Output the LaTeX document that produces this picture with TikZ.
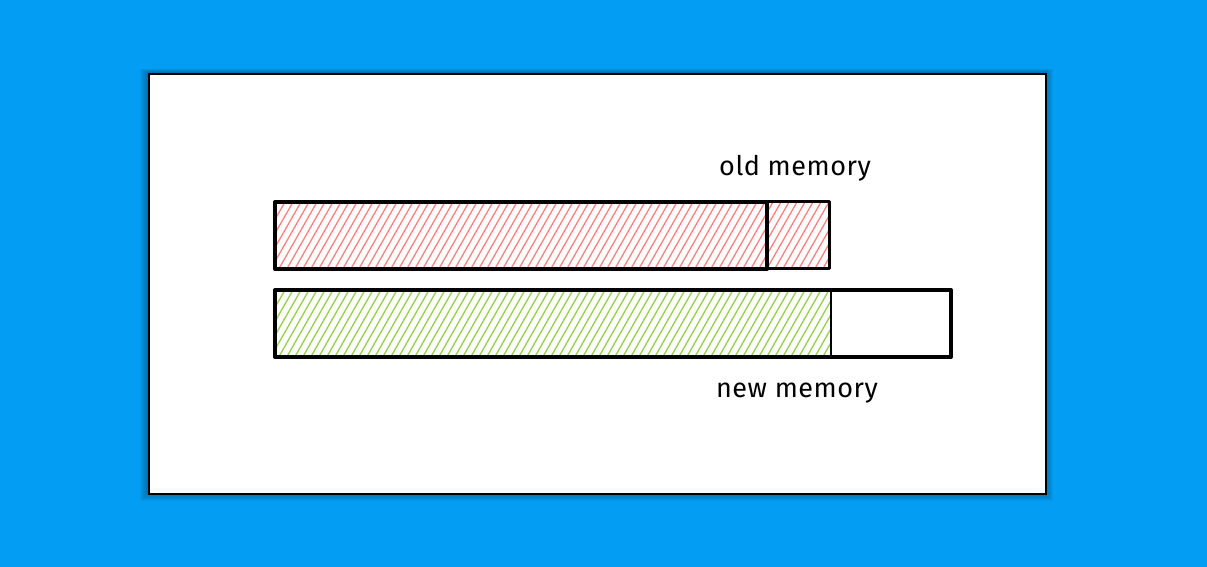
\documentclass[tikz,border=0pt]{standalone}
\usepackage{fontspec}
\setmainfont{Fira Sans}
\begin{document}
\begin{tikzpicture}[x=1pt,y=-1pt,
  thickbox/.style={draw=black,line width=4pt,line join=round},
  thinbox/.style={draw=black,line width=2.8pt,line join=round},
  lbl/.style={font=\fontsize{27}{30}\selectfont\addfontfeature{LetterSpace=2}, text=black, inner sep=0pt}]
\definecolor{bgblue}{HTML}{039DF3}
\definecolor{hred}{HTML}{FF8080}
\definecolor{hgreen}{HTML}{94CF50}
\useasboundingbox (0,0) rectangle (1207,567);
\fill[bgblue] (0,0) rectangle (1207,567);
% shadow
\foreach \i in {1,...,8}{
  \fill[black,opacity=0.035] (148-\i,73-\i*0.5) rectangle (1045+\i,493+\i);
}
% card
\node[draw=black,line width=2pt,fill=white,minimum width=897pt,minimum height=420pt,anchor=north west,inner sep=0pt] (card) at (148,73) {};
% red hatching
\begin{scope}
  \clip (273,200) rectangle (828,267);
  \foreach \k in {0,8,...,640}{
    \draw[hred,line width=1.3pt] (273+\k-44,272) -- (273+\k,195);
  }
\end{scope}
% green hatching
\begin{scope}
  \clip (273,288) rectangle (831,355);
  \foreach \k in {0,8,...,640}{
    \draw[hgreen,line width=1.3pt] (273+\k-44,360) -- (273+\k,283);
  }
\end{scope}
% old memory boxes
\node[thickbox,minimum width=492pt,minimum height=67pt,anchor=north west,inner sep=0pt] (oldA) at (273,200) {};
\node[thinbox,minimum width=63pt,minimum height=67pt,anchor=north west,inner sep=0pt] (oldB) at (765,200) {};
% new memory boxes
\node[thickbox,minimum width=676pt,minimum height=67pt,anchor=north west,inner sep=0pt] (new) at (273,288) {};
\coordinate (dtop) at (831,288);
\coordinate (dbot) at (831,355);
\draw[black,line width=2.6pt] (dtop) -- (dbot);
% labels
\node[lbl] (oldlbl) at (795,168) {old memory};
\node[lbl] (newlbl) at (797,393) {new memory};
\end{tikzpicture}
\end{document}
